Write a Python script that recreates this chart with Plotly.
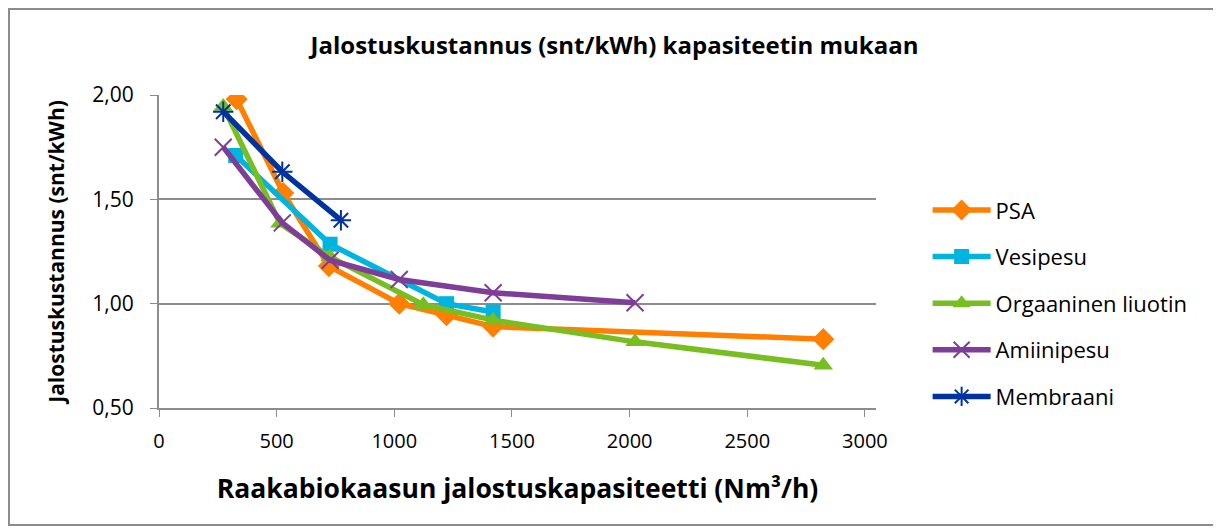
"""Jalostuskustannus kapasiteetin mukaan - Excel-tyylinen viivakaavio"""
import plotly.graph_objects as go

# kapasiteetti (Nm3/h) ja kustannus (snt/kWh) menetelmittäin, luettu kuvasta
psa_x = [330, 528, 722, 1021, 1222, 1420, 2823]
psa_y = [1.98, 1.53, 1.18, 1.00, 0.945, 0.89, 0.83]

vesi_x = [326, 727, 1222, 1420]
vesi_y = [1.71, 1.285, 1.00, 0.96]

org_x = [273, 514, 727, 1123, 1420, 2023, 2823]
org_y = [1.945, 1.385, 1.224, 0.995, 0.921, 0.817, 0.705]

amiini_x = [273, 524, 727, 1021, 1420, 2023]
amiini_y = [1.75, 1.387, 1.208, 1.116, 1.052, 1.004]

membr_x = [273, 524, 773]
membr_y = [1.92, 1.632, 1.40]

x_ticks = [0, 500, 1000, 1500, 2000, 2500, 3000]
y_ticks = [0.5, 1.0, 1.5, 2.0]
y_tick_labels = ['0,50', '1,00', '1,50', '2,00']

FONT = 'Open Sans'
GREY = '#8C8C8C'

series = [
    ('PSA', psa_x, psa_y, '#FF7F00', 'diamond', 17, 0),
    ('Vesipesu', vesi_x, vesi_y, '#00B4E0', 'square', 15, 0),
    ('Orgaaninen liuotin', org_x, org_y, '#78BE20', 'triangle-up', 17, 0),
    ('Amiinipesu', amiini_x, amiini_y, '#7E3D98', 'x-thin', 17, 2),
    ('Membraani', membr_x, membr_y, '#0033A0', 'asterisk', 17, 2),
]

fig = go.Figure()
for name, xs, ys, color, symbol, size, mlw in series:
    fig.add_trace(go.Scatter(
        x=xs, y=ys, name=name, mode='lines+markers', legendgroup=name,
        line={'color': color, 'width': 5.5},
        marker={'symbol': symbol, 'size': size, 'color': color,
                'line': {'color': color, 'width': mlw}}
    ))

# sivun body-marginaali (8 px) huomioitu koossa ja marginaaleissa
W, H = 1213, 524
ML, MT, PW, PH = 151, 87, 717, 313
fig.update_layout(
    width=W, height=H,
    margin={'l': ML, 'r': W - ML - PW, 't': MT, 'b': H - MT - PH},
    paper_bgcolor='white', plot_bgcolor='white',
    font={'family': FONT, 'size': 19, 'color': 'black'},
    title={'text': '<b>Jalostuskustannus (snt/kWh) kapasiteetin mukaan</b>',
           'x': 0.5, 'xanchor': 'center', 'y': 0.9275, 'yanchor': 'middle',
           'font': {'size': 24}},
    legend={'x': 1.072, 'y': 0.699, 'xanchor': 'left', 'yanchor': 'top',
            'font': {'size': 22}, 'itemwidth': 58, 'tracegroupgap': 15,
            'traceorder': 'grouped', 'bgcolor': 'rgba(0,0,0,0)'},
    showlegend=True,
)
fig.update_xaxes(
    range=[0, 3047], tickvals=x_ticks, ticks='outside', ticklen=7,
    tickcolor=GREY, showline=True, linecolor=GREY, linewidth=2,
    showgrid=False, zeroline=False, tickfont={'size': 20},
    ticklabelstandoff=7,
    title={'text': '<b>Raakabiokaasun jalostuskapasiteetti (Nm³/h)</b>',
           'font': {'size': 26.5}, 'standoff': 26}
)
fig.update_yaxes(
    range=[0.5, 2.0], tickvals=y_ticks, ticktext=y_tick_labels,
    ticks='outside', ticklen=7, tickcolor=GREY,
    showline=True, linecolor=GREY, linewidth=2,
    showgrid=True, gridcolor=GREY, gridwidth=2, zeroline=False,
    tickfont={'size': 21}, ticklabelstandoff=12,
    title={'text': '<b>Jalostuskustannus (snt/kWh)</b>',
           'font': {'size': 21}, 'standoff': 22}
)
# ulkokehys kuten Excelissä (kuvan reunoilla)
fig.add_shape(type='rect', xref='paper', yref='paper',
              x0=(1 - ML) / PW, x1=(W - 7 - ML) / PW,
              y0=(MT + PH - (H - 7)) / PH, y1=(MT + PH - 1) / PH,
              line={'color': GREY, 'width': 2}, layer='below')

fig.write_html('out.html')
